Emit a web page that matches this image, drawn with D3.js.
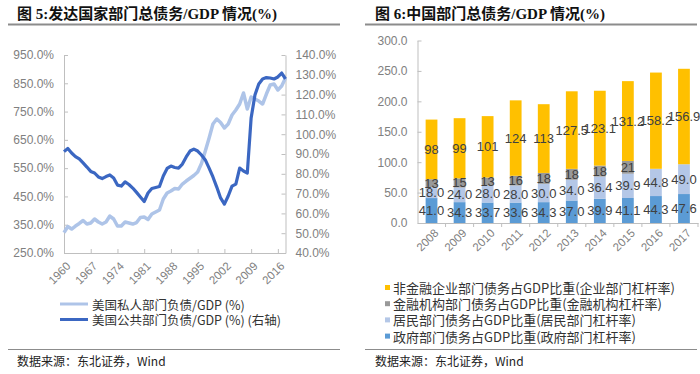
<!DOCTYPE html>
<html>
<head>
<meta charset="utf-8">
<script src="https://cdn.jsdelivr.net/npm/d3@7"></script>
<style>
  html, body { margin: 0; padding: 0; background: #ffffff; }
  svg { display: block; }
</style>
</head>
<body>
<svg id="chart" width="700" height="374"></svg>
<script>
// ---- left chart data (US debt / GDP) ----
const usYears = d3.range(1960, 2019);
const usTickYears = [1960, 1967, 1974, 1981, 1988, 1995, 2002, 2009, 2016];
const usPrivate = [
  321.8, 343.7, 334.8, 345.4, 354.3, 364.9, 352.5, 356.0, 370.2, 359.6,
  352.5, 359.6, 380.8, 370.2, 345.4, 345.4, 359.6, 356.0, 352.5, 357.8,
  375.5, 377.3, 368.4, 387.9, 394.9, 402.0, 440.9, 462.1, 469.2, 478.0,
  476.2, 493.9, 504.5, 514.1, 524.0, 536.3, 566.4, 610.6, 656.5, 706.0,
  723.7, 711.3, 691.9, 706.0, 737.8, 755.5, 776.7, 815.6, 759.0, 801.4,
  794.4, 787.3, 776.7, 812.0, 843.9, 847.4, 826.2, 840.3, 868.6
];
const usPublic = [
  91.2, 92.8, 90.5, 88.7, 87.5, 85.5, 83.4, 81.2, 80.4, 78.4,
  77.6, 78.6, 79.4, 77.9, 74.3, 73.8, 75.9, 74.6, 72.8, 70.6,
  68.3, 66.0, 70.3, 72.6, 73.1, 73.6, 78.9, 82.7, 83.9, 83.2,
  82.9, 84.9, 88.5, 91.5, 92.5, 91.5, 89.5, 87.0, 82.9, 78.4,
  73.3, 67.8, 64.7, 68.8, 73.8, 74.8, 82.9, 81.4, 80.4, 108.2,
  119.8, 125.4, 127.9, 128.6, 128.4, 127.9, 128.9, 130.9, 127.9
];
const leftTicks = [250, 350, 450, 550, 650, 750, 850, 950];
const rightTicks = [40, 50, 60, 70, 80, 90, 100, 110, 120, 130, 140];
const leftLegend = ['美国私人部门负债/GDP (%)', '美国公共部门负债/GDP (%) (右轴)'];

// ---- right chart data (China debt / GDP) ----
const cnYears = ['2008', '2009', '2010', '2011', '2012', '2013', '2014', '2015', '2016', '2017'];
const cnGov = [41.0, 34.3, 33.7, 33.6, 34.3, 37.0, 39.9, 41.1, 44.3, 47.6];
const cnHousehold = [18.0, 24.0, 28.0, 28.0, 30.0, 34.0, 36.4, 39.9, 44.8, 49.0];
const cnFinancial = [13, 15, 13, 16, 18, 18, 18, 21, 0, 0];
const cnCorporate = [98, 99, 101, 124, 113, 127.5, 123.1, 131.2, 158.2, 156.9];
const cnTicks = [0, 50, 100, 150, 200, 250, 300];
const cnLegend = [
  '非金融企业部门债务占GDP比重(企业部门杠杆率)',
  '金融机构部门债务占GDP比重(金融机构杠杆率)',
  '居民部门债务占GDP比重(居民部门杠杆率)',
  '政府部门债务占GDP比重(政府部门杠杆率)'
];

const LATIN = '"Liberation Sans", Arial, sans-serif';
const CJK = '"Noto Sans CJK SC", sans-serif';
const TITLE = '"Liberation Serif", "Noto Sans CJK SC", serif';
const AXIS_GREY = '#bfbfbf';
const LABEL_GREY = '#808080';

const svg = d3.select('#chart');

// ---- shared header / footer pieces ----
function drawFrame(x0, x1, titleX, title, footX) {
  svg.append('text')
    .attr('x', titleX)
    .attr('y', 19)
    .attr('fill', '#111')
    .attr('font-size', 15)
    .attr('font-weight', 700)
    .attr('font-family', TITLE)
    .text(title);

  svg.append('line')
    .attr('x1', x0).attr('x2', x1)
    .attr('y1', 24.5).attr('y2', 24.5)
    .attr('stroke', '#8c8c8c')
    .attr('stroke-width', 2);

  svg.append('line')
    .attr('x1', x0).attr('x2', x1)
    .attr('y1', 349.5).attr('y2', 349.5)
    .attr('stroke', '#8c8c8c')
    .attr('stroke-width', 1.2);

  svg.append('text')
    .attr('x', footX)
    .attr('y', 366)
    .attr('fill', '#222')
    .attr('font-size', 12)
    .attr('font-family', CJK)
    .text('数据来源：东北证券，Wind');
}

drawFrame(8, 340, 17, '图 5:发达国家部门总债务/GDP 情况(%)', 17);
drawFrame(365, 697, 375, '图 6:中国部门总债务/GDP 情况(%)', 375);

function styleAxis(g) {
  g.select('.domain').attr('stroke', AXIS_GREY);
  g.selectAll('.tick line').attr('stroke', AXIS_GREY);
  g.selectAll('.tick text')
    .attr('fill', LABEL_GREY)
    .attr('font-size', 12)
    .attr('font-family', LATIN);
}

// ---- left chart ----
const xUS = d3.scalePoint().domain(usYears).range([64, 285.5]);
const yLeft = d3.scaleLinear().domain([250, 950]).range([253, 55]);
const yRight = d3.scaleLinear().domain([40, 140]).range([253, 55]);

const pct = (d) => d3.format('.1f')(d) + '%';

svg.append('g')
  .attr('transform', 'translate(64,0)')
  .call(d3.axisLeft(yLeft).tickValues(leftTicks).tickFormat(pct).tickSize(-4).tickSizeOuter(0).tickPadding(10))
  .call(styleAxis);

svg.append('g')
  .attr('transform', 'translate(285.5,0)')
  .call(d3.axisRight(yRight).tickValues(rightTicks).tickFormat(pct).tickSize(-4).tickSizeOuter(0).tickPadding(10))
  .call(styleAxis);

const xAxisUS = svg.append('g')
  .attr('transform', 'translate(0,253)')
  .call(d3.axisBottom(xUS).tickValues(usTickYears).tickSize(-4).tickSizeOuter(0).tickPadding(0))
  .call(styleAxis);
xAxisUS.selectAll('.tick text')
  .attr('font-size', 11.5)
  .attr('text-anchor', 'end')
  .attr('dy', null)
  .attr('y', 0)
  .attr('transform', 'translate(4,11) rotate(-45)')
  .attr('dominant-baseline', 'central');

const linePrivate = d3.line()
  .x((d, i) => xUS(usYears[i]))
  .y((d) => yLeft(d));
const linePublic = d3.line()
  .x((d, i) => xUS(usYears[i]))
  .y((d) => yRight(d));

svg.append('path')
  .datum(usPrivate)
  .attr('d', linePrivate)
  .attr('fill', 'none')
  .attr('stroke', '#aec4e8')
  .attr('stroke-width', 3.5)
  .attr('stroke-linejoin', 'round');

svg.append('path')
  .datum(usPublic)
  .attr('d', linePublic)
  .attr('fill', 'none')
  .attr('stroke', '#3b67c2')
  .attr('stroke-width', 3.2)
  .attr('stroke-linejoin', 'round');

const legendColors = ['#aec4e8', '#3b67c2'];
leftLegend.forEach((label, i) => {
  const y = 304 + i * 15.5;
  svg.append('line')
    .attr('x1', 60).attr('x2', 88)
    .attr('y1', y).attr('y2', y)
    .attr('stroke', legendColors[i])
    .attr('stroke-width', 3);
  svg.append('text')
    .attr('x', 92)
    .attr('y', y)
    .attr('dominant-baseline', 'central')
    .attr('fill', '#333')
    .attr('font-size', 12.5)
    .attr('font-family', CJK)
    .text(label);
});

// ---- right chart ----
const keys = ['gov', 'household', 'financial', 'corporate'];
const colors = { gov: '#5b9bd5', household: '#b4c7e7', financial: '#999999', corporate: '#ffc000' };
const rows = cnYears.map((year, i) => ({
  year,
  gov: cnGov[i],
  household: cnHousehold[i],
  financial: cnFinancial[i],
  corporate: cnCorporate[i]
}));
const stacked = d3.stack().keys(keys)(rows);

const xCN = d3.scaleBand().domain(cnYears).range([417.5, 698]).paddingInner(0.58).paddingOuter(0.29);
const yCN = d3.scaleLinear().domain([0, 300]).range([223, 40.5]);

svg.append('g')
  .attr('transform', 'translate(417.5,0)')
  .call(d3.axisLeft(yCN).tickValues(cnTicks).tickFormat(d3.format('.1f')).tickSize(-4).tickSizeOuter(0).tickPadding(10))
  .call(styleAxis);

const xAxisCN = svg.append('g')
  .attr('transform', 'translate(0,223)')
  .call(d3.axisBottom(xCN).tickSize(0).tickSizeOuter(0).tickPadding(0))
  .call(styleAxis);
xAxisCN.selectAll('.tick text')
  .attr('font-size', 11.5)
  .attr('text-anchor', 'end')
  .attr('dy', null)
  .attr('y', 0)
  .attr('transform', 'translate(5,8) rotate(-45)')
  .attr('dominant-baseline', 'central');

const step = xCN.step();
xAxisCN.selectAll('.boundary')
  .data(cnYears)
  .join('line')
  .attr('x1', (d) => xCN(d) + xCN.bandwidth() / 2 + step / 2)
  .attr('x2', (d) => xCN(d) + xCN.bandwidth() / 2 + step / 2)
  .attr('y1', 0).attr('y2', 4)
  .attr('stroke', AXIS_GREY);

const layers = svg.append('g')
  .selectAll('g')
  .data(stacked)
  .join('g')
  .attr('fill', (d) => colors[d.key]);

layers.selectAll('rect')
  .data((d) => d)
  .join('rect')
  .attr('x', (d) => xCN(d.data.year))
  .attr('width', xCN.bandwidth())
  .attr('y', (d) => yCN(d[1]))
  .attr('height', (d) => yCN(d[0]) - yCN(d[1]));

const fmtLabel = {
  gov: (v) => v.toFixed(1),
  household: (v) => v.toFixed(1),
  financial: (v) => String(v),
  corporate: (v) => (Number.isInteger(v) ? String(v) : v.toFixed(1))
};

stacked.forEach((layer) => {
  svg.append('g')
    .selectAll('text')
    .data(layer.filter((d) => d.data[layer.key] > 0))
    .join('text')
    .attr('x', (d) => xCN(d.data.year) + xCN.bandwidth() / 2)
    .attr('y', (d) => (yCN(d[0]) + yCN(d[1])) / 2)
    .attr('text-anchor', 'middle')
    .attr('dominant-baseline', 'central')
    .attr('fill', '#404040')
    .attr('font-size', 13)
    .attr('font-family', LATIN)
    .text((d) => fmtLabel[layer.key](d.data[layer.key]));
});

const legendKeys = ['corporate', 'financial', 'household', 'gov'];
cnLegend.forEach((label, i) => {
  const y = 287.5 + i * 16.2;
  svg.append('rect')
    .attr('x', 385)
    .attr('y', y - 2.5)
    .attr('width', 5)
    .attr('height', 5)
    .attr('fill', colors[legendKeys[i]]);
  svg.append('text')
    .attr('x', 393)
    .attr('y', y)
    .attr('dominant-baseline', 'central')
    .attr('fill', '#333')
    .attr('font-size', 13)
    .attr('font-family', CJK)
    .text(label);
});
</script>
</body>
</html>
